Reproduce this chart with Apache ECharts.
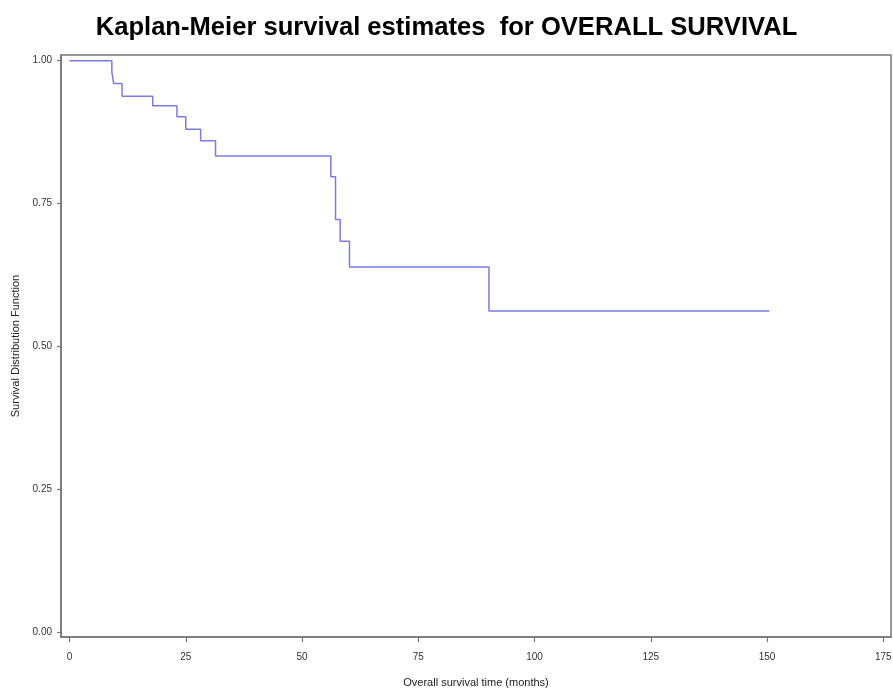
<!DOCTYPE html>
<html>
<head>
<meta charset="utf-8">
<script src="https://cdn.jsdelivr.net/npm/echarts@6/dist/echarts.min.js"></script>
<style>
html,body{margin:0;padding:0;background:#fff;}
#main{width:893px;height:690px;}
</style>
</head>
<body>
<div id="main"></div>
<script>
// Kaplan-Meier step points (time in months, survival estimate)
var times    = [0, 9.1, 9.5, 11.3, 17.9, 23.1, 25.0, 28.2, 31.4, 56.2, 57.2, 58.2, 60.2, 90.2, 150.5];
var survival = [1.000, 0.980, 0.960, 0.938, 0.921, 0.902, 0.880, 0.860, 0.833, 0.797, 0.722, 0.684, 0.639, 0.562, 0.562];
var xTicks = [0, 25, 50, 75, 100, 125, 150, 175];
var yTicks = [0, 0.25, 0.5, 0.75, 1.0];

var points = times.map(function (t, i) { return [t, survival[i]]; });

var chart = echarts.init(document.getElementById('main'), null, {renderer: 'canvas'});
var font = '"Liberation Sans", Arial, sans-serif';
chart.setOption({
  animation: false,
  backgroundColor: '#ffffff',
  title: {
    text: 'Kaplan-Meier survival estimates  for OVERALL SURVIVAL',
    left: 'center',
    top: 10,
    textStyle: {fontFamily: font, fontWeight: 'bold', fontSize: 25.6, color: '#000'}
  },
  grid: {
    left: 61, right: 2, top: 55, bottom: 53,
    outerBoundsMode: 'none',
    containLabel: false,
    show: true, borderColor: '#777', borderWidth: 1.5, backgroundColor: '#fff'
  },
  xAxis: {
    type: 'value',
    min: -1.83, max: 176.65,
    name: 'Overall survival time (months)',
    nameLocation: 'middle',
    nameGap: 40,
    nameTextStyle: {fontFamily: font, fontSize: 11, color: '#222'},
    axisLine: {show: true, onZero: false, lineStyle: {color: '#777', width: 1.5}},
    axisTick: {show: true, length: 5, customValues: xTicks, lineStyle: {color: '#777', width: 1.2}},
    axisLabel: {customValues: xTicks, margin: 15, fontFamily: font, fontSize: 10, color: '#333',
                formatter: function (v) { return String(v); }},
    splitLine: {show: false}
  },
  yAxis: {
    type: 'value',
    min: -0.0088, max: 1.010,
    name: 'Survival Distribution Function',
    nameLocation: 'middle',
    nameGap: 38,
    nameTextStyle: {fontFamily: font, fontSize: 11, color: '#222'},
    axisLine: {show: true, onZero: false, lineStyle: {color: '#777', width: 1.5}},
    axisTick: {show: true, length: 4, customValues: yTicks, lineStyle: {color: '#777', width: 1.2}},
    axisLabel: {customValues: yTicks, margin: 9, fontFamily: font, fontSize: 10, color: '#333',
                formatter: function (v) { return v.toFixed(2); }},
    splitLine: {show: false}
  },
  series: [{
    type: 'line',
    step: 'end',
    data: points,
    showSymbol: false,
    symbol: 'none',
    lineStyle: {color: '#7b7be3', width: 1.5},
    silent: true
  }]
});
</script>
</body>
</html>
